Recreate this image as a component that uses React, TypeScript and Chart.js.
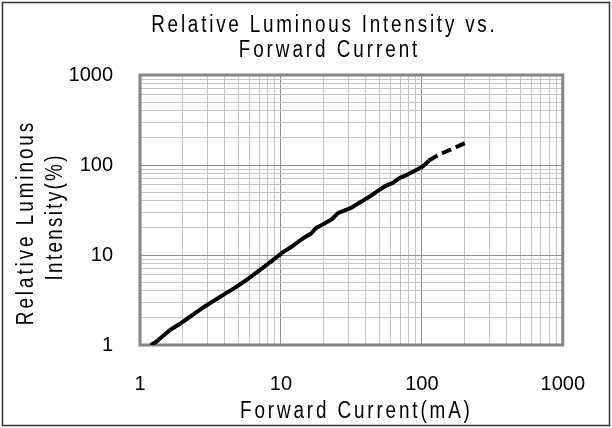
import React, { useEffect, useRef } from 'react';
import { Chart, registerables } from 'chart.js';

Chart.register(...registerables);

const titleLines = ['Relative Luminous Intensity vs.', 'Forward Current'];
const xAxisTitle = 'Forward Current(mA)';
const yAxisTitleLines = ['Relative Luminous', 'Intensity(%)'];

const tickLabels = [1, 10, 100, 1000];
const gridValues = [
  1, 2, 3, 4, 5, 6, 7, 8, 9,
  10, 20, 30, 40, 50, 60, 70, 80, 90,
  100, 200, 300, 400, 500, 600, 700, 800, 900,
  1000,
];

const solidCurrent = [1.19, 1.3, 1.45, 1.64, 1.9, 2.3, 2.8, 3.4, 4, 4.8, 5.8, 7, 8.2, 10, 12, 14.5, 16.5, 17.8, 20.5, 23, 25.3, 28, 32, 37, 43, 50, 56, 62, 70, 80, 90, 100, 107, 112];
const solidIntensity = [1.0, 1.08, 1.25, 1.47, 1.7, 2.1, 2.6, 3.15, 3.7, 4.4, 5.4, 6.7, 8.1, 10.3, 12.5, 15.5, 17.5, 20, 22.5, 25, 29, 31, 34, 39, 45, 53, 59, 63, 72, 79, 87, 95, 104, 112];

const dashedCurrent = [112, 130, 150, 175, 202];
const dashedIntensity = [112, 128, 142, 158, 175];

const FONT = '"Liberation Sans", Arial, sans-serif';
const TICK_FONT_SIZE = 20;
const TEXT_FONT_SIZE = 23;

function drawNarrowText(ctx: any, text: string, x: number, y: number, spacing: number, rotate = false) {
  ctx.save();
  ctx.translate(x, y);
  if (rotate) ctx.rotate(-Math.PI / 2);
  ctx.scale(0.82, 1);
  ctx.font = `${TEXT_FONT_SIZE}px ${FONT}`;
  ctx.textAlign = 'center';
  ctx.textBaseline = 'alphabetic';
  ctx.letterSpacing = `${spacing}px`;
  ctx.fillStyle = '#000';
  ctx.fillText(text, spacing / 2, 0);
  ctx.letterSpacing = '0px';
  ctx.restore();
}

const decorPlugin = {
  id: 'decor',
  beforeDatasetsDraw(chart: any) {
    const { ctx, chartArea } = chart;
    ctx.save();
    ctx.strokeStyle = '#858585';
    ctx.lineWidth = 3;
    ctx.strokeRect(chartArea.left, chartArea.top, chartArea.right - chartArea.left, chartArea.bottom - chartArea.top);
    ctx.restore();
  },
  afterDraw(chart: any) {
    const { ctx } = chart;
    ctx.save();
    ctx.strokeStyle = '#333333';
    ctx.lineWidth = 1.5;
    ctx.strokeRect(2.5, 2.5, 607, 423);
    ctx.restore();

    drawNarrowText(ctx, titleLines[0], 323, 32, 3.4);
    drawNarrowText(ctx, titleLines[1], 328, 57, 3.6);
    drawNarrowText(ctx, xAxisTitle, 355, 418, 3.5);
    drawNarrowText(ctx, yAxisTitleLines[0], 33, 224, 3.6, true);
    drawNarrowText(ctx, yAxisTitleLines[1], 62, 218, 2.8, true);
  },
};

const setTicks = (scale: any) => {
  scale.ticks = gridValues.map((v) => ({ value: v, major: tickLabels.includes(v) }));
};

const gridColor = (c: any) => (c.tick && tickLabels.includes(c.tick.value) ? '#8e8e8e' : '#c4c4c4');

export default function App() {
  const ref = useRef<HTMLCanvasElement | null>(null);
  useEffect(() => {
    if (!ref.current) return;
    const chart = new Chart(ref.current, {
      type: 'line',
      data: {
        datasets: [
          {
            data: solidCurrent.map((x, i) => ({ x, y: solidIntensity[i] })),
            borderColor: '#000',
            borderWidth: 4,
            pointRadius: 0,
            tension: 0.2,
            fill: false,
          },
          {
            data: dashedCurrent.map((x, i) => ({ x, y: dashedIntensity[i] })),
            borderColor: '#000',
            borderWidth: 4,
            borderDash: [10, 5],
            pointRadius: 0,
            tension: 0.2,
            fill: false,
          },
        ],
      },
      plugins: [decorPlugin],
      options: {
        responsive: false,
        animation: false,
        events: [],
        layout: { padding: { left: 0, right: 39, top: 75, bottom: 0 } },
        plugins: { legend: { display: false }, tooltip: { enabled: false }, title: { display: false } },
        scales: {
          x: {
            type: 'logarithmic',
            min: 1,
            max: 1000,
            afterBuildTicks: setTicks,
            afterFit: (s: any) => { s.height = 83; },
            border: { display: false },
            grid: { color: gridColor, lineWidth: 1, drawTicks: false },
            ticks: {
              autoSkip: false,
              maxRotation: 0,
              padding: 27,
              color: '#000',
              font: { family: FONT, size: TICK_FONT_SIZE },
              callback: (v: any) => (tickLabels.includes(Number(v)) ? String(v) : ''),
            },
          },
          y: {
            type: 'logarithmic',
            min: 1,
            max: 1000,
            afterBuildTicks: setTicks,
            afterFit: (s: any) => { s.width = 140; },
            border: { display: false },
            grid: { color: gridColor, lineWidth: 1, drawTicks: false },
            ticks: {
              autoSkip: false,
              padding: 27,
              color: '#000',
              font: { family: FONT, size: TICK_FONT_SIZE },
              callback: (v: any) => (tickLabels.includes(Number(v)) ? String(v) : ''),
            },
          },
        },
      },
    });
    return () => chart.destroy();
  }, []);
  return (
    <div style={{ position: 'fixed', left: 0, top: 0, width: 612, height: 428, background: '#fff' }}>
      <canvas ref={ref} width={612} height={428} />
    </div>
  );
}
